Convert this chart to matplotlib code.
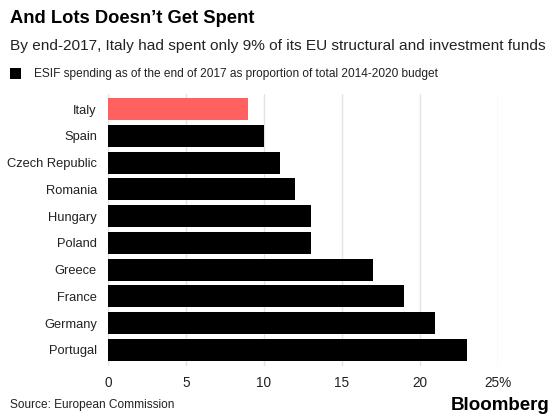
import matplotlib.pyplot as plt
from matplotlib.patches import Rectangle

countries = ["Italy", "Spain", "Czech Republic", "Romania", "Hungary",
             "Poland", "Greece", "France", "Germany", "Portugal"]
spending_pct = [9, 10, 11, 12, 13, 13, 17, 19, 21, 23]
highlight = "Italy"
x_ticks = [0, 5, 10, 15, 20, 25]
x_tick_labels = ["0", "5", "10", "15", "20", "25%"]

plt.rcParams["font.family"] = ["Liberation Sans", "DejaVu Sans"]

fig = plt.figure(figsize=(5.6, 4.2), dpi=100)
ax = fig.add_axes([0.193, 0.129, 0.696, 0.647])

colors = ["#ff6060" if c == highlight else "#000000" for c in countries]
ypos = list(range(len(countries)))
ax.barh(ypos, spending_pct, height=0.82, color=colors, zorder=3)

ax.set_xlim(0, 25)
ax.set_ylim(9.6, -0.56)
ax.set_xticks(x_ticks)
ax.set_xticklabels(x_tick_labels, fontsize=9.8, color="#222222")
ax.set_yticks(ypos)
ax.set_yticklabels(countries, fontsize=9.3, color="#222222")
ax.tick_params(axis="y", length=0, pad=8)
ax.tick_params(axis="x", length=0, pad=7)
ax.grid(axis="x", color="#e3e3e3", linewidth=1, zorder=0)
for side in ax.spines.values():
    side.set_visible(False)

fig.text(0.018, 0.955, "And Lots Doesn\u2019t Get Spent", fontsize=13.2,
         fontweight="bold", va="center", ha="left")
fig.text(0.018, 0.89, "By end-2017, Italy had spent only 9% of its EU structural and investment funds",
         fontsize=11.1, va="center", ha="left", color="#222222")
fig.patches.append(Rectangle((0.018, 0.811), 0.019, 0.027, transform=fig.transFigure,
                             facecolor="black", edgecolor="none"))
fig.text(0.06, 0.824, "ESIF spending as of the end of 2017 as proportion of total 2014-2020 budget",
         fontsize=8.6, va="center", ha="left", color="#222222")
fig.text(0.018, 0.035, "Source: European Commission", fontsize=8.6,
         va="center", ha="left", color="#222222")
fig.text(0.982, 0.035, "Bloomberg", fontsize=13.5, fontweight="bold",
         va="center", ha="right")

fig.savefig("out.png", dpi=100)
